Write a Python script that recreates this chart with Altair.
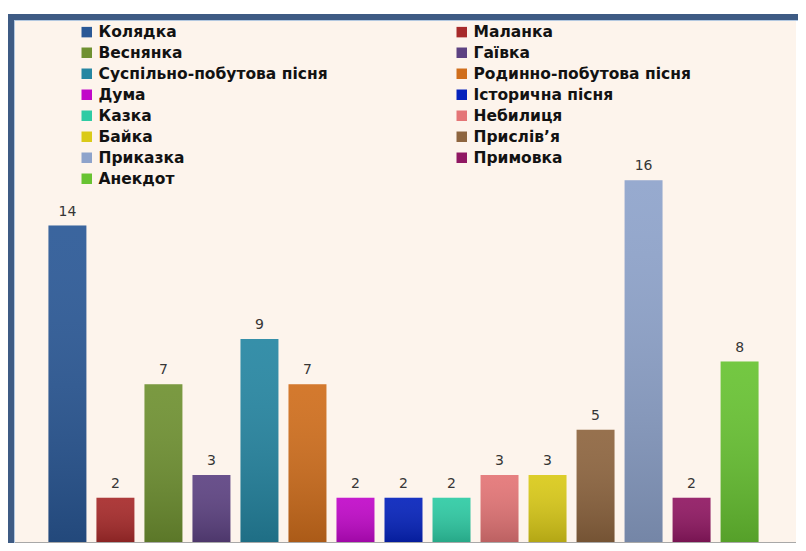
import altair as alt
import pandas as pd

categories = ["Колядка", "Маланка", "Веснянка", "Гаївка",
              "Суспільно-побутова пісня", "Родинно-побутова пісня",
              "Дума", "Історична пісня", "Казка", "Небилиця",
              "Байка", "Прислів’я", "Приказка", "Примовка", "Анекдот"]
values = [14, 2, 7, 3, 9, 7, 2, 2, 2, 3, 3, 5, 16, 2, 8]
colors = ["#2A5896", "#A72A2A", "#6F9131", "#5D4282", "#2586A2", "#D06E1C",
          "#C108C9", "#0522BC", "#2ECBA4", "#E47576", "#DACA18", "#8E653F",
          "#8EA3CB", "#901762", "#68C332"]
baseline_value = [0]

df = pd.DataFrame({"cat": categories, "val": values})

W, H = 785, 526
FRAME = "#3E5B84"
FRAME_LIGHT = "#B3C8E0"

y_scale = alt.Scale(domain=[0, 23.2], nice=False)

x_enc = alt.X("cat:N", sort=categories,
              scale=alt.Scale(paddingInner=0.21, paddingOuter=0.78), axis=None)
y_enc = alt.Y("val:Q", scale=y_scale, axis=None)

base = alt.Chart(df)

bars = base.mark_bar().encode(
    x=x_enc, y=y_enc,
    color=alt.Color("cat:N", sort=categories,
                    scale=alt.Scale(domain=categories, range=colors),
                    legend=alt.Legend(title=None, orient="none", legendX=68, legendY=7,
                                      columns=2, direction="horizontal",
                                      symbolType="square", symbolSize=110,
                                      symbolStrokeWidth=0, labelFont="DejaVu Sans",
                                      labelFontWeight="bold", labelFontSize=15.5,
                                      labelColor="#121212", rowPadding=4,
                                      columnPadding=126, labelOffset=4,
                                      labelLimit=400)),
)

shade = base.mark_bar(fill=alt.Gradient(
    gradient="linear", x1=0, y1=0, x2=0, y2=1,
    stops=[alt.GradientStop(color="rgba(255,255,255,0.08)", offset=0),
           alt.GradientStop(color="rgba(0,0,0,0.18)", offset=1)])).encode(x=x_enc, y=y_enc)

labels = base.mark_text(dy=-7, baseline="bottom", fontSize=14, font="DejaVu Sans",
                        color="#363636").encode(x=x_enc, y=y_enc, text="val:Q")

one_row = pd.DataFrame({"val": baseline_value})

baseline = alt.Chart(one_row).mark_rule(color="#A8A8A8", strokeWidth=2).encode(y=y_enc)

frame_top = alt.Chart(one_row).mark_rule(color=FRAME, strokeWidth=6).encode(
    x=alt.value(-3), x2=alt.value(W + 10), y=alt.value(0))
frame_left = alt.Chart(one_row).mark_rule(color=FRAME, strokeWidth=6).encode(
    x=alt.value(0), y=alt.value(-3), y2=alt.value(H + 10))
frame_top_in = alt.Chart(one_row).mark_rule(color=FRAME_LIGHT, strokeWidth=1).encode(
    x=alt.value(3), x2=alt.value(W + 10), y=alt.value(3.5))
frame_left_in = alt.Chart(one_row).mark_rule(color=FRAME_LIGHT, strokeWidth=1).encode(
    x=alt.value(3.5), y=alt.value(3), y2=alt.value(H + 10))

chart = alt.layer(bars, shade, labels, baseline, frame_top, frame_left,
                  frame_top_in, frame_left_in).properties(
    width=W, height=H,
    autosize=alt.AutoSizeParams(type="none"),
    padding={"left": 3, "top": 9, "right": 2, "bottom": 0},
    background="white",
).configure_view(fill="#FDF4EC", strokeWidth=0)

chart.save("out.html", embed_options={"renderer": "svg", "actions": False})
